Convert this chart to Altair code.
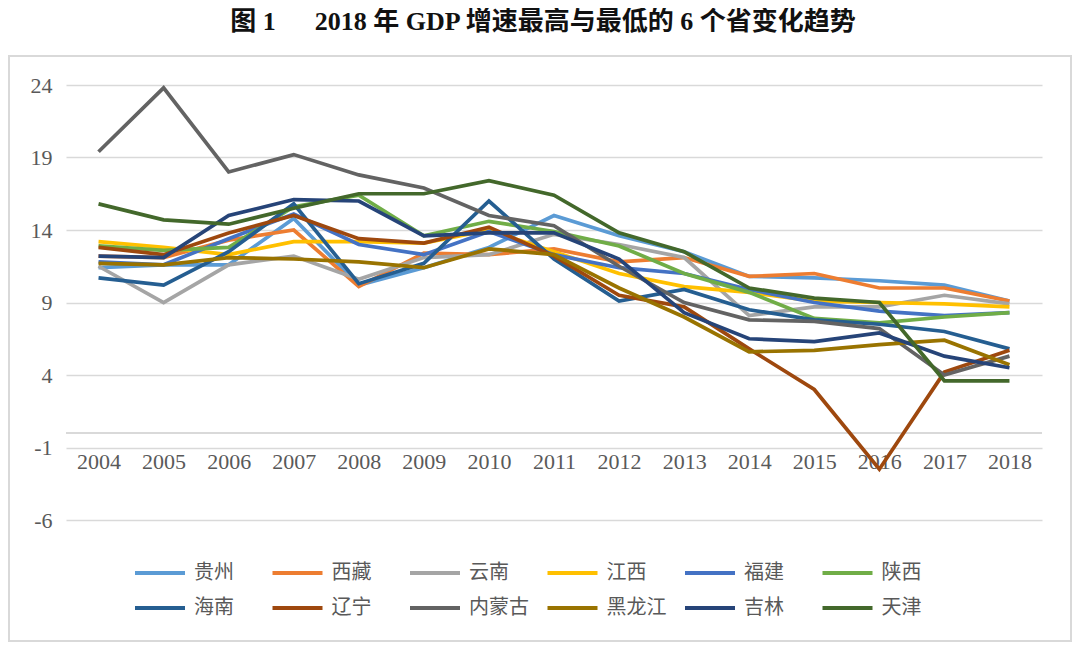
import altair as alt
import pandas as pd

years = [str(y) for y in range(2004, 2019)]

names_a = ["贵州", "西藏", "云南", "江西", "福建", "陕西"]
names_b = ["海南", "辽宁", "内蒙古", "黑龙江", "吉林", "天津"]
colors_a = ["#5B9BD5", "#ED7D31", "#A5A5A5", "#FFC000", "#4472C4", "#70AD47"]
colors_b = ["#255E91", "#9E480E", "#636363", "#997300", "#264478", "#43682B"]

guizhou = [11.4, 11.6, 11.6, 14.8, 10.2, 11.4, 12.8, 15.0, 13.6, 12.5, 10.8, 10.7, 10.5, 10.2, 9.1]
xizang = [12.2, 12.1, 13.3, 14.0, 10.1, 12.4, 12.3, 12.7, 11.8, 12.1, 10.8, 11.0, 10.0, 10.0, 9.1]
yunnan = [11.5, 9.0, 11.6, 12.2, 10.6, 12.1, 12.3, 13.7, 13.0, 12.1, 8.1, 8.7, 8.7, 9.5, 8.9]
jiangxi = [13.2, 12.8, 12.3, 13.2, 13.2, 13.1, 14.0, 12.5, 11.0, 10.1, 9.7, 9.1, 9.0, 8.9, 8.7]
fujian = [11.8, 11.6, 13.4, 15.1, 13.0, 12.3, 13.9, 12.3, 11.4, 11.0, 9.9, 9.0, 8.4, 8.1, 8.3]
shaanxi = [12.9, 12.6, 12.8, 15.6, 16.4, 13.6, 14.6, 13.9, 12.9, 11.0, 9.7, 7.9, 7.6, 8.0, 8.3]
hainan = [10.7, 10.2, 12.5, 15.8, 10.3, 11.7, 16.0, 12.0, 9.1, 9.9, 8.5, 7.8, 7.5, 7.0, 5.8]
liaoning = [12.8, 12.3, 13.8, 15.0, 13.4, 13.1, 14.2, 12.2, 9.5, 8.7, 5.8, 3.0, -2.5, 4.2, 5.7]
neimenggu = [19.4, 23.8, 18.0, 19.2, 17.8, 16.9, 15.0, 14.3, 11.5, 9.0, 7.8, 7.7, 7.2, 4.0, 5.3]
heilongjiang = [11.7, 11.6, 12.1, 12.0, 11.8, 11.4, 12.7, 12.3, 10.0, 8.0, 5.6, 5.7, 6.1, 6.4, 4.7]
jilin = [12.2, 12.1, 15.0, 16.1, 16.0, 13.6, 13.8, 13.8, 12.0, 8.3, 6.5, 6.3, 6.9, 5.3, 4.5]
tianjin = [15.8, 14.7, 14.4, 15.5, 16.5, 16.5, 17.4, 16.4, 13.8, 12.5, 10.0, 9.3, 9.0, 3.6, 3.6]

y_ticks = [-6, -1, 4, 9, 14, 19, 24]

series_a = [guizhou, xizang, yunnan, jiangxi, fujian, shaanxi]
series_b = [hainan, liaoning, neimenggu, heilongjiang, jilin, tianjin]


def long_df(names, series):
    rows = []
    for n, vals in zip(names, series):
        for yr, v in zip(years, vals):
            rows.append({"省份": n, "年份": yr, "增速": v})
    return pd.DataFrame(rows)


df_a = long_df(names_a, series_a)
df_b = long_df(names_b, series_b)

LABEL_FONT = "Liberation Serif, Noto Sans CJK SC"
GRAY = "#595959"
GRID = "#D9D9D9"

x_enc = alt.X(
    "年份:O",
    sort=years,
    scale=alt.Scale(type="point", padding=0.5, domain=years),
    axis=alt.Axis(
        title=None, orient="bottom", offset=-73, domain=False, ticks=False,
        labelAngle=0, labelFont=LABEL_FONT, labelFontSize=22, labelColor=GRAY,
        labelPadding=4, grid=False,
    ),
)
y_enc = alt.Y(
    "增速:Q",
    scale=alt.Scale(domain=[-6, 24], nice=False, zero=False),
    axis=alt.Axis(
        title=None, values=y_ticks, domain=False, ticks=False,
        labelExpr="'' + datum.value",
        labelFont=LABEL_FONT, labelFontSize=22, labelColor=GRAY,
        labelPadding=14, grid=True, gridColor=GRID, gridWidth=1.3,
    ),
)


def legend(y, col_pad):
    return alt.Legend(
        title=None, orient="none", legendX=67, legendY=y, direction="horizontal",
        columns=6, symbolType="stroke", symbolSize=2500, symbolStrokeWidth=4,
        labelFont=LABEL_FONT, labelFontSize=20, labelColor=GRAY, labelOffset=7,
        columnPadding=col_pad, gridAlign="all", padding=0,
    )


zero_rule = alt.Chart(df_a).mark_rule(color=GRID, strokeWidth=1.3).encode(
    y=alt.datum(0)
)

lines_a = alt.Chart(df_a).mark_line(strokeWidth=3.7).encode(
    x=x_enc,
    y=y_enc,
    color=alt.Color("省份:N", sort=names_a,
                    scale=alt.Scale(domain=names_a, range=colors_a),
                    legend=legend(461, 30.5)),
    order=alt.Order("年份:O"),
)

lines_b = alt.Chart(df_b).mark_line(strokeWidth=3.7).encode(
    x=x_enc,
    y=y_enc,
    color=alt.Color("省份:N", sort=names_b,
                    scale=alt.Scale(domain=names_b, range=colors_b),
                    legend=legend(496, 10.5)),
    order=alt.Order("年份:O"),
)

frame = alt.Chart(df_a).mark_rect(fill=None, stroke=GRID, strokeWidth=1.3).encode(
    x=alt.value(-57), x2=alt.value(1005), y=alt.value(-29), y2=alt.value(556)
)

chart = (
    alt.layer(frame, zero_rule, lines_a, lines_b)
    .resolve_scale(color="independent")
    .properties(
        width=976,
        height=435,
        autosize=alt.AutoSizeParams(type="none"),
        padding={"left": 58, "top": 77, "right": 30, "bottom": 123},
        title=alt.TitleParams(
            text="图 1\u2003\u20022018 年 GDP 增速最高与最低的 6 个省变化趋势",
            font="Liberation Serif, Noto Sans CJK SC",
            fontSize=26, fontWeight="bold", color="#111111",
            anchor="middle", offset=20, dx=-11,
        ),
    )
    .configure_view(stroke=None)
)

chart.save("out.html", embed_options={"renderer": "svg", "actions": False})
